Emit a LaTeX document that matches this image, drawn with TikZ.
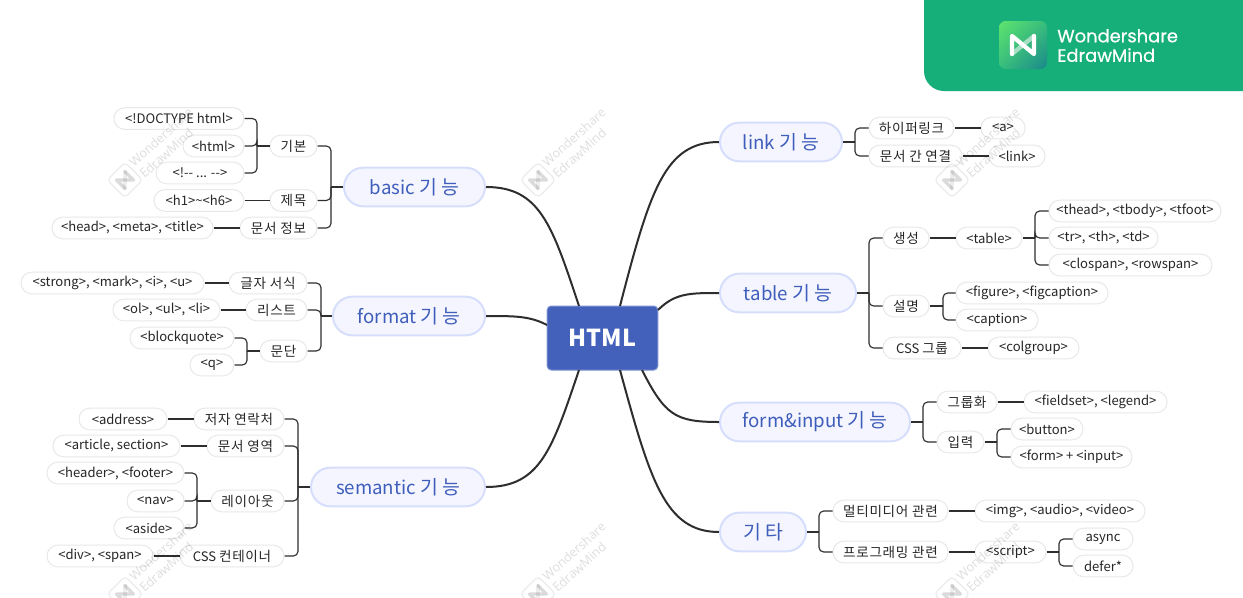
\documentclass[tikz,border=0pt]{standalone}
\usepackage{fontspec}
\setmainfont{Noto Sans CJK KR}
\newfontfamily\kofont[LetterSpace=5,Scale=1.04]{Noto Sans CJK KR}
\newfontfamily\logofont[FakeBold=0.6]{Poppins}
\newfontfamily\wmfont{Open Sans}
\newcommand{\ko}[1]{{\kofont #1}}
\newcommand{\kg}[2]{{\kofont #1\hspace{3pt}#2}}
\usetikzlibrary{shadings}
\definecolor{ink}{HTML}{2E2E2E}
\definecolor{leafedge}{HTML}{E8E8E8}
\definecolor{topicfill}{HTML}{F4F5FF}
\definecolor{topicedge}{HTML}{D6DEFB}
\definecolor{topictext}{HTML}{3F5EBB}
\definecolor{rootfill}{HTML}{4361BA}
\definecolor{rootedge}{HTML}{7F93D3}
\definecolor{banner}{HTML}{16AE79}
\definecolor{lgA}{RGB}{95,228,110}
\definecolor{lgB}{RGB}{55,190,125}
\definecolor{lgC}{RGB}{25,135,140}
\tikzset{
  x=0.75pt,y=-0.75pt,
  leaf/.style={draw=leafedge,line width=0.75pt,fill=white,rounded corners=8pt,inner sep=0pt,minimum height=16.2pt,text=black!85,font=\fontsize{9.8pt}{11pt}\selectfont},
  topic/.style={draw=topicedge,line width=1.5pt,fill=topicfill,rounded corners=14.5pt,inner sep=0pt,minimum height=29pt,text=topictext,font=\fontsize{14pt}{16pt}\selectfont},
  root/.style={draw=rootedge,line width=0.75pt,fill=rootfill,rounded corners=3pt,inner sep=0pt,text=white,font=\fontsize{17.5pt}{22pt}\selectfont\bfseries},
  conn/.style={draw=ink,line width=0.85pt,rounded corners=3.5pt},
  main/.style={draw=ink,line width=1.5pt},
  wmtext/.style={text=black,text opacity=0.13,rotate=42,align=left,inner sep=0pt,font=\fontsize{9.5pt}{11.5pt}\selectfont\wmfont},
}
\newcommand{\lf}[5]{\node[leaf,minimum width={(#3-#2)*0.75pt}] (#1) at ({(#2+#3)/2},#4) {#5};}
\newcommand{\tp}[5]{\node[topic,minimum width={(#3-#2)*0.75pt}] (#1) at ({(#2+#3)/2},#4) {#5};}
\newcommand{\wmark}[3]{%
  \begin{scope}[shift={(#2,#3)}]
    \node[wmtext] (#1) at (41,-37) {Wondershare\\EdrawMind};
    \draw[black,opacity=0.08,line width=0.9pt,rounded corners=3pt,rotate=45] (-12.5,-12.5) rectangle (12.5,12.5);
    \begin{scope}[rotate=45]
      \draw[black,opacity=0.07,line width=2.4pt,line cap=round] (-6,6) -- (6,-6);
      \draw[black,opacity=0.14,line width=2.4pt,line cap=round,line join=round] (-6,6) -- (-6,-6) -- (6,6) -- (6,-6);
    \end{scope}
  \end{scope}}
\begin{document}
\begin{tikzpicture}
\useasboundingbox (0,0) rectangle (1243,597);
\fill[white] (0,0) rectangle (1243,597);
% banner
\fill[banner,rounded corners=15pt] (924,-40) rectangle (1283,91);
\shade[rounded corners=5pt,upper left=lgA,upper right=lgB,lower left=lgB,lower right=lgC] (999,21) rectangle (1047,69);
\draw[white,opacity=0.55,line width=3.2pt,line cap=round] (1012,54) -- (1034,36);
\draw[white,line width=3.2pt,line join=round,line cap=round] (1012,54) -- (1012,36) -- (1034,54) -- (1034,36);
\node[anchor=west,inner sep=0pt,text=white,align=left,font=\fontsize{13.4pt}{14.6pt}\selectfont\logofont] (brand) at (1057,45.5) {Wondershare\\EdrawMind};
% nodes
\node[root,minimum width=83pt,minimum height=48pt] (html) at (602.5,338) {HTML};
\tp{basic}{344}{485}{187}{basic \kg{기}{능}}
\tp{format}{333}{485}{316}{format \kg{기}{능}}
\tp{semantic}{311}{485}{487}{semantic \kg{기}{능}}
\tp{link}{720}{842}{142}{link \kg{기}{능}}
\tp{table}{720}{856}{293}{table \kg{기}{능}}
\tp{form}{720}{910}{422}{form\&input \kg{기}{능}}
\tp{etc}{720}{806}{532}{\kg{기}{타}}
% basic
\lf{doctype}{114}{244}{118.5}{<!DOCTYPE html>}
\lf{htmltag}{183}{244}{146}{<html>}
\lf{comment}{156}{244}{173}{<!-{}- ... -{}->}
\lf{gibon}{270}{317}{146}{\ko{기본}}
\lf{hn}{154}{244}{200.5}{<h1>\textasciitilde<h6>}
\lf{jemok}{270}{317}{200.5}{\ko{제목}}
\lf{headmeta}{52}{213}{228}{<head>, <meta>, <title>}
\lf{docinfo}{240}{317}{228}{\ko{문서 정보}}
% format
\lf{strong}{21}{204}{283}{<strong>, <mark>, <i>, <u>}
\lf{charfmt}{229}{307}{283}{\ko{글자 서식}}
\lf{ol}{113}{220}{310}{<ol>, <ul>, <li>}
\lf{listnode}{246}{307}{310}{\ko{리스트}}
\lf{blockq}{130}{234}{338}{<blockquote>}
\lf{qtag}{190}{234}{365}{<q>}
\lf{para}{260}{307}{351}{\ko{문단}}
% semantic
\lf{address}{79}{167}{419}{<address>}
\lf{contact}{194}{284}{419}{\ko{저자 연락처}}
\lf{article}{53}{180}{446}{<article, section>}
\lf{docarea}{207}{284}{446}{\ko{문서 영역}}
\lf{header}{47}{184}{473}{<header>, <footer>}
\lf{nav}{127}{184}{501}{<nav>}
\lf{aside}{114}{184}{528}{<aside>}
\lf{layout}{211}{284}{501}{\ko{레이아웃}}
\lf{divspan}{47}{153}{556}{<div>, <span>}
\lf{csscont}{180}{284}{556}{CSS \ko{컨테이너}}
% link
\lf{hyper}{869}{954}{128}{\ko{하이퍼링크}}
\lf{atag}{981}{1025}{128}{<a>}
\lf{doclink}{869}{962}{156}{\ko{문서 간 연결}}
\lf{linktag}{989}{1045}{156}{<link>}
% table
\lf{create}{883}{929}{238}{\ko{생성}}
\lf{tabletag}{956}{1022}{238}{<table>}
\lf{thead}{1049}{1221}{211}{<thead>, <tbody>, <tfoot>}
\lf{trtag}{1049}{1158}{238}{<tr>, <th>, <td>}
\lf{clospan}{1049}{1212}{265}{<clospan>, <rowspan>}
\lf{descr}{883}{929}{306}{\ko{설명}}
\lf{figure}{956}{1108}{293}{<figure>, <figcaption>}
\lf{caption}{956}{1038}{320}{<caption>}
\lf{cssgroup}{883}{961}{348}{CSS \ko{그룹}}
\lf{colgroup}{988}{1079}{348}{<colgroup>}
% form
\lf{grouping}{937}{997}{402}{\ko{그룹화}}
\lf{fieldset}{1024}{1167}{402}{<fieldset>, <legend>}
\lf{inputnode}{937}{984}{442}{\ko{입력}}
\lf{button}{1011}{1083}{429}{<button>}
\lf{forminput}{1011}{1132}{457}{<form> + <input>}
% etc
\lf{multi}{833}{948}{511}{\ko{멀티미디어 관련}}
\lf{img}{975}{1145}{511}{<img>, <audio>, <video>}
\lf{prog}{833}{948}{552}{\ko{프로그래밍 관련}}
\lf{script}{975}{1046}{552}{<script>}
\lf{async}{1073}{1133}{539}{async}
\lf{defer}{1073}{1133}{566}{defer*}
% root connectors
\coordinate (r1) at (579,306);
\coordinate (r2) at (547,325);
\coordinate (r3) at (579,370);
\coordinate (r4) at (620,306);
\coordinate (r5) at (658,310);
\coordinate (r6) at (642,370);
\coordinate (r7) at (620,370);
\draw[main] (basic.east) .. controls (540,187) and (552,225) .. (r1);
\draw[main] (format.east) .. controls (515,316) and (530,316) .. (r2);
\draw[main] (semantic.east) .. controls (540,487) and (552,450) .. (r3);
\draw[main] (link.west) .. controls (665,142) and (650,190) .. (r4);
\draw[main] (table.west) .. controls (690,293) and (675,293) .. (r5);
\draw[main] (form.west) .. controls (675,422) and (665,415) .. (r6);
\draw[main] (etc.west) .. controls (665,532) and (650,480) .. (r7);
% buses
\coordinate (bBasic) at (331,187);
\coordinate (bFormat) at (321,316);
\coordinate (bSem) at (298,487);
\coordinate (bGibon) at (257,146);
\coordinate (bPara) at (247,351);
\coordinate (bLayout) at (197,501);
\coordinate (bLink) at (855,142);
\coordinate (bTable) at (869,293);
\coordinate (bForm) at (923,422);
\coordinate (bEtc) at (819,532);
\coordinate (bCreate) at (1035,238);
\coordinate (bDescr) at (943,306);
\coordinate (bInput) at (997,442);
\coordinate (bScript) at (1059,552);
\draw[conn] (bBasic) -- (basic.west);
\foreach \c in {gibon,jemok,docinfo} \draw[conn] (\c.east) -| (bBasic);
\draw[conn] (bFormat) -- (format.west);
\foreach \c in {charfmt,listnode,para} \draw[conn] (\c.east) -| (bFormat);
\draw[conn] (bSem) -- (semantic.west);
\foreach \c in {contact,docarea,layout,csscont} \draw[conn] (\c.east) -| (bSem);
\draw[conn] (bGibon) -- (gibon.west);
\foreach \c in {doctype,htmltag,comment} \draw[conn] (\c.east) -| (bGibon);
\draw[conn] (bPara) -- (para.west);
\foreach \c in {blockq,qtag} \draw[conn] (\c.east) -| (bPara);
\draw[conn] (bLayout) -- (layout.west);
\foreach \c in {header,nav,aside} \draw[conn] (\c.east) -| (bLayout);
\draw[conn] (link.east) -- (bLink);
\foreach \c in {hyper,doclink} \draw[conn] (\c.west) -| (bLink);
\draw[conn] (table.east) -- (bTable);
\foreach \c in {create,descr,cssgroup} \draw[conn] (\c.west) -| (bTable);
\draw[conn] (form.east) -- (bForm);
\foreach \c in {grouping,inputnode} \draw[conn] (\c.west) -| (bForm);
\draw[conn] (etc.east) -- (bEtc);
\foreach \c in {multi,prog} \draw[conn] (\c.west) -| (bEtc);
\draw[conn] (tabletag.east) -- (bCreate);
\foreach \c in {thead,trtag,clospan} \draw[conn] (\c.west) -| (bCreate);
\draw[conn] (descr.east) -- (bDescr);
\foreach \c in {figure,caption} \draw[conn] (\c.west) -| (bDescr);
\draw[conn] (inputnode.east) -- (bInput);
\foreach \c in {button,forminput} \draw[conn] (\c.west) -| (bInput);
\draw[conn] (script.east) -- (bScript);
\foreach \c in {async,defer} \draw[conn] (\c.west) -| (bScript);
% straight links
\draw[conn] (hn.east) -- (jemok.west);
\draw[conn] (headmeta.east) -- (docinfo.west);
\draw[conn] (strong.east) -- (charfmt.west);
\draw[conn] (ol.east) -- (listnode.west);
\draw[conn] (address.east) -- (contact.west);
\draw[conn] (article.east) -- (docarea.west);
\draw[conn] (divspan.east) -- (csscont.west);
\draw[conn] (hyper.east) -- (atag.west);
\draw[conn] (doclink.east) -- (linktag.west);
\draw[conn] (create.east) -- (tabletag.west);
\draw[conn] (cssgroup.east) -- (colgroup.west);
\draw[conn] (grouping.east) -- (fieldset.west);
\draw[conn] (multi.east) -- (img.west);
\draw[conn] (prog.east) -- (script.west);
% watermarks
\wmark{wa}{125}{180}
\wmark{wb}{538}{180}
\wmark{wc}{952}{180}
\wmark{wd}{125}{594}
\wmark{we}{538}{594}
\wmark{wf}{952}{594}
\end{tikzpicture}
\end{document}
